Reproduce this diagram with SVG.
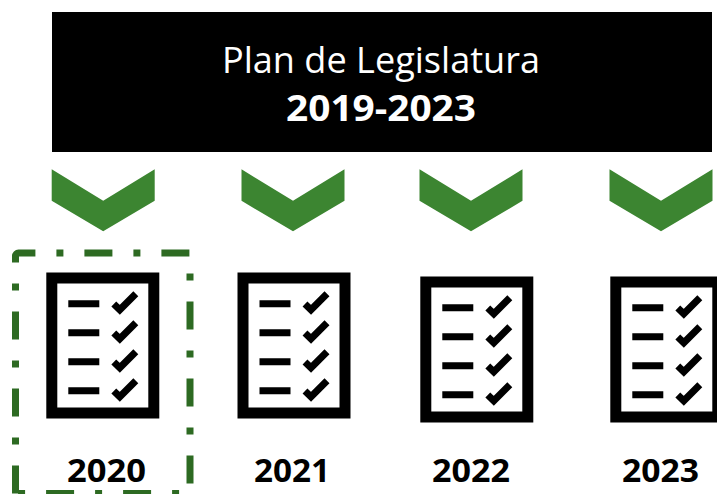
<svg xmlns="http://www.w3.org/2000/svg" xmlns:xlink="http://www.w3.org/1999/xlink" width="717" height="494" viewBox="0 0 717 494">
<style>
text{font-family:"Open Sans","Noto Sans","Liberation Sans",sans-serif;text-anchor:middle;fill:#000}
.year{font-size:32.5px;font-weight:700}
.frame{fill:#fff;stroke:#000;stroke-width:11}
.row{fill:none;stroke:#000;stroke-width:7}
.chev{fill:#3c8531}
</style>
<defs>
<polygon id="chevron" class="chev" points="0,0 51.5,31.5 103,0 103,31.5 51.5,62 0,31.5"/>
<g id="checklist">
<rect class="frame" x="5.5" y="6" width="102" height="135"/>
<path class="row" d="M22 31.7H53M22 60.7H53M22 89.7H53M22 118.7H53"/>
<path class="row" d="M67.5 32l6 5.8 16-16M67.5 61l6 5.8 16-16M67.5 90l6 5.8 16-16M67.5 119l6 5.8 16-16"/>
</g>
</defs>
<rect width="717" height="494" fill="#fff"/>
<g id="header">
<rect x="52" y="12" width="660" height="140" fill="#000"/>
<text x="381" y="73" font-size="36" textLength="318" lengthAdjust="spacingAndGlyphs" style="fill:#fff">Plan de Legislatura</text>
<text x="381" y="121" font-size="36" font-weight="700" textLength="190" lengthAdjust="spacingAndGlyphs" style="fill:#fff">2019-2023</text>
</g>
<g id="connectors">
<use xlink:href="#chevron" href="#chevron" x="51.7" y="169.3"/>
<use xlink:href="#chevron" href="#chevron" x="241.5" y="169.3"/>
<use xlink:href="#chevron" href="#chevron" x="419.5" y="169.3"/>
<use xlink:href="#chevron" href="#chevron" x="609.5" y="169.3"/>
</g>
<g id="node-2020">
<use xlink:href="#checklist" href="#checklist" x="46.3" y="272"/>
<text class="year" x="106.5" y="482" textLength="79" lengthAdjust="spacingAndGlyphs">2020</text>
</g>
<g id="node-2021">
<use xlink:href="#checklist" href="#checklist" x="237.5" y="272"/>
<text class="year" x="292" y="482" textLength="76" lengthAdjust="spacingAndGlyphs">2021</text>
</g>
<g id="node-2022">
<use xlink:href="#checklist" href="#checklist" x="420.3" y="276"/>
<text class="year" x="471" y="482" textLength="78" lengthAdjust="spacingAndGlyphs">2022</text>
</g>
<g id="node-2023">
<use xlink:href="#checklist" href="#checklist" x="610.3" y="276"/>
<text class="year" x="660.5" y="482" textLength="77" lengthAdjust="spacingAndGlyphs">2023</text>
</g>
<path id="highlight" d="M15.5 493.5V256a3 3 0 0 1 3-3H190V493.5H15.5" fill="none" stroke="#2d6a22" stroke-width="7" stroke-dasharray="28 21 7 21"/>
</svg>
